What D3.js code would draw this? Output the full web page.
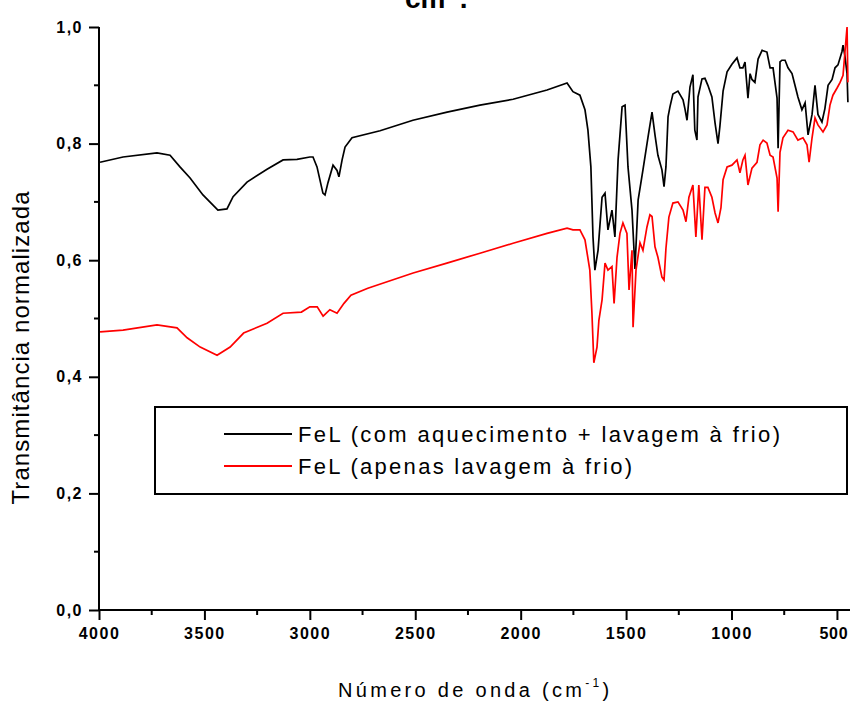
<!DOCTYPE html>
<html>
<head>
<meta charset="utf-8">
<script src="https://cdn.jsdelivr.net/npm/d3@7"></script>
<style>
  html, body { margin: 0; padding: 0; background: #fff; }
  svg { display: block; font-family: "Liberation Sans", Arial, sans-serif; }
</style>
</head>
<body>
<svg id="chart" width="850" height="702"></svg>
<script>
// ---- Data ----
const seriesNames = ["FeL (com aquecimento + lavagem à frio)", "FeL (apenas lavagem à frio)"];
const seriesColors = ["#000000", "#ff0000"];

const blackWn = [3995,3886,3725,3663,3616,3568,3507,3436,3393,3364,3298,3203,3127,3061,3000,2985,2966,2938,2928,2914,2890,2871,2862,2847,2833,2800,2667,2511,2349,2193,2036,1875,1780,1752,1719,1695,1681,1667,1657,1648,1633,1614,1600,1586,1567,1553,1538,1519,1505,1491,1472,1458,1443,1420,1396,1377,1363,1349,1330,1320,1311,1301,1292,1278,1254,1230,1221,1211,1197,1183,1174,1164,1159,1140,1126,1112,1093,1078,1064,1055,1040,1021,998,974,960,946,936,927,922,912,903,889,874,855,832,817,803,784,779,770,761,746,732,713,699,685,666,651,637,618,604,590,571,557,542,523,509,495,476,471,462,452,448];
const blackT = [0.768,0.777,0.784,0.780,0.760,0.741,0.712,0.686,0.688,0.709,0.734,0.756,0.772,0.773,0.777,0.777,0.760,0.715,0.712,0.733,0.763,0.754,0.743,0.772,0.794,0.810,0.822,0.840,0.854,0.866,0.876,0.892,0.904,0.889,0.883,0.858,0.823,0.760,0.640,0.583,0.617,0.708,0.715,0.652,0.686,0.640,0.772,0.863,0.866,0.760,0.686,0.585,0.703,0.755,0.811,0.854,0.815,0.780,0.755,0.726,0.760,0.846,0.863,0.885,0.890,0.875,0.860,0.840,0.897,0.918,0.823,0.806,0.880,0.911,0.912,0.900,0.880,0.835,0.800,0.830,0.890,0.923,0.936,0.947,0.930,0.930,0.940,0.900,0.878,0.920,0.910,0.905,0.945,0.960,0.957,0.930,0.930,0.878,0.792,0.940,0.943,0.943,0.930,0.920,0.900,0.880,0.858,0.870,0.815,0.850,0.900,0.850,0.837,0.860,0.900,0.910,0.930,0.935,0.958,0.969,0.950,0.920,0.871];

const redWn = [3995,3886,3725,3630,3582,3520,3440,3378,3314,3203,3127,3040,3000,2965,2937,2905,2871,2838,2805,2725,2510,2350,2193,2036,1875,1780,1752,1719,1695,1672,1662,1653,1638,1629,1614,1600,1586,1567,1557,1543,1529,1515,1496,1486,1472,1467,1453,1434,1420,1401,1387,1377,1363,1349,1330,1320,1311,1297,1278,1254,1230,1216,1202,1183,1169,1155,1140,1126,1112,1093,1078,1064,1050,1040,1021,998,974,960,946,936,922,903,879,865,850,832,817,803,784,779,770,756,732,708,685,661,642,632,618,604,590,566,547,533,519,500,485,471,452,448];
const redT = [0.477,0.480,0.489,0.484,0.467,0.451,0.437,0.451,0.475,0.492,0.509,0.511,0.520,0.520,0.504,0.515,0.509,0.526,0.540,0.552,0.578,0.595,0.612,0.629,0.646,0.655,0.652,0.652,0.635,0.583,0.509,0.424,0.451,0.497,0.532,0.595,0.583,0.589,0.526,0.605,0.646,0.664,0.646,0.549,0.617,0.485,0.583,0.630,0.617,0.657,0.678,0.675,0.623,0.605,0.571,0.566,0.620,0.674,0.698,0.700,0.686,0.666,0.708,0.729,0.640,0.729,0.635,0.725,0.725,0.708,0.681,0.664,0.690,0.738,0.760,0.763,0.772,0.750,0.772,0.780,0.729,0.758,0.768,0.798,0.806,0.801,0.780,0.777,0.741,0.683,0.785,0.810,0.823,0.820,0.806,0.810,0.798,0.768,0.810,0.844,0.832,0.820,0.832,0.866,0.883,0.895,0.905,0.917,1.000,0.905];

const yTicks = [0, 0.2, 0.4, 0.6, 0.8, 1.0];
const yMinorTicks = [0.1, 0.3, 0.5, 0.7, 0.9];
const xTicks = [4000, 3500, 3000, 2500, 2000, 1500, 1000, 500];
const xMinorTicks = [3750, 3250, 2750, 2250, 1750, 1250, 750];

// ---- Chart ----
const svg = d3.select("#chart");
const x = d3.scaleLinear().domain([4000, 438]).range([99, 850]);
const y = d3.scaleLinear().domain([0, 1]).range([610, 27]);

// cropped title fragment at the top (the reference shows only its lower part)
const title = svg.append("text")
  .attr("x", 405).attr("y", 8)
  .attr("font-size", 28).attr("font-weight", "bold").attr("fill", "#000");
title.append("tspan").text("cm");
title.append("tspan").attr("font-size", 16).attr("dy", -14).text("-1");
title.append("tspan").attr("dy", 14).text(".");

// minor ticks
const gy = svg.append("g").attr("transform", "translate(99,0)");
gy.selectAll("line.minor").data(yMinorTicks).join("line")
  .attr("x1", -5).attr("x2", 0)
  .attr("y1", d => y(d)).attr("y2", d => y(d))
  .attr("stroke", "#000").attr("stroke-width", 2);

const gx = svg.append("g").attr("transform", "translate(0,610)");
gx.selectAll("line.minor").data(xMinorTicks).join("line")
  .attr("x1", d => x(d)).attr("x2", d => x(d))
  .attr("y1", 0).attr("y2", 5)
  .attr("stroke", "#000").attr("stroke-width", 2);

// axes
const yAxis = d3.axisLeft(y).tickValues(yTicks).tickSize(10).tickPadding(6)
  .tickFormat(d => d.toFixed(1).replace(".", ","));
const xAxis = d3.axisBottom(x).tickValues(xTicks).tickSize(10).tickPadding(8)
  .tickFormat(d => String(d));

const yA = svg.append("g").attr("transform", "translate(99,0)").call(yAxis);
const xA = svg.append("g").attr("transform", "translate(0,610)").call(xAxis);
[yA, xA].forEach(g => {
  g.select(".domain").attr("stroke", "#000").attr("stroke-width", 2);
  g.selectAll(".tick line").attr("stroke", "#000").attr("stroke-width", 2);
  g.selectAll(".tick text").attr("font-family", "'Liberation Sans', Arial, sans-serif")
    .attr("font-size", 16).attr("font-weight", "bold").attr("fill", "#000")
    .attr("letter-spacing", 1.5);
});
yA.select(".domain").attr("d", `M0,${y(1)}V${y(0)}`);
xA.select(".domain").attr("d", `M${x(4000)},0H850`);
// last x label sits flush against the right edge, as in the reference
xA.selectAll(".tick").filter(d => d === 500).select("text")
  .attr("text-anchor", "end").attr("x", 848 - x(500)).attr("letter-spacing", 0.8);

// series lines
const line = d3.line().x(d => x(d[0])).y(d => y(d[1]));
const blackData = blackWn.map((w, i) => [w, blackT[i]]);
const redData = redWn.map((w, i) => [w, redT[i]]);
svg.append("path").datum(blackData).attr("d", line)
  .attr("fill", "none").attr("stroke", seriesColors[0]).attr("stroke-width", 1.7);
svg.append("path").datum(redData).attr("d", line)
  .attr("fill", "none").attr("stroke", seriesColors[1]).attr("stroke-width", 1.7);

// legend
const lg = svg.append("g");
lg.append("rect").attr("x", 155).attr("y", 407).attr("width", 692).attr("height", 87)
  .attr("fill", "#fff").attr("stroke", "#000").attr("stroke-width", 2);
const legendLens = [482, 334];
seriesNames.forEach((name, i) => {
  const cy = 434 + i * 32;
  lg.append("line").attr("x1", 224).attr("x2", 292).attr("y1", cy).attr("y2", cy)
    .attr("stroke", seriesColors[i]).attr("stroke-width", 2);
  lg.append("text").attr("x", 298).attr("y", cy + 8)
    .attr("font-size", 22).attr("fill", "#000")
    .attr("textLength", legendLens[i]).attr("lengthAdjust", "spacing")
    .text(name);
});

// axis titles
svg.append("text")
  .attr("transform", "translate(29,348) rotate(-90)")
  .attr("text-anchor", "middle").attr("font-size", 24).attr("fill", "#000")
  .attr("textLength", 313).attr("lengthAdjust", "spacing")
  .text("Transmitância normalizada");

const xt = svg.append("text").attr("x", 338).attr("y", 697)
  .attr("font-size", 20).attr("fill", "#000").attr("letter-spacing", 3.3);
xt.append("tspan").text("Número de onda (cm");
xt.append("tspan").attr("font-size", 12).attr("dy", -10).text("-1");
xt.append("tspan").attr("dy", 10).text(")");
</script>
</body>
</html>
